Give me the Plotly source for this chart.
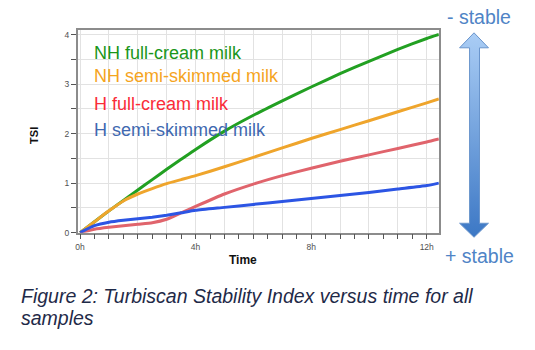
import plotly.graph_objects as go

# Turbiscan Stability Index (TSI) readings over time, in hours
time_h = [0, 0.5, 1, 1.5, 2, 2.5, 3, 3.5, 4, 5, 6, 7, 8, 9, 10, 11, 12, 12.42]
nh_full_cream = [0, 0.22, 0.44, 0.65, 0.86, 1.07, 1.28, 1.48, 1.68, 2.05, 2.37, 2.66, 2.94, 3.21, 3.46, 3.70, 3.92, 4.0]
nh_semi_skimmed = [0, 0.22, 0.44, 0.64, 0.78, 0.89, 0.99, 1.07, 1.15, 1.33, 1.52, 1.71, 1.90, 2.08, 2.26, 2.44, 2.62, 2.70]
h_full_cream = [0, 0.07, 0.11, 0.14, 0.17, 0.20, 0.27, 0.40, 0.53, 0.78, 0.98, 1.15, 1.30, 1.44, 1.57, 1.70, 1.83, 1.89]
h_semi_skimmed = [0, 0.14, 0.21, 0.25, 0.28, 0.31, 0.35, 0.40, 0.45, 0.51, 0.57, 0.63, 0.69, 0.75, 0.81, 0.88, 0.95, 1.0]

series_names = ["NH full-cream milk", "NH semi-skimmed milk", "H full-cream milk", "H semi-skimmed milk"]
line_colors = ["#22a022", "#efa52c", "#e0646c", "#2c55e4"]
label_colors = ["#1a961a", "#f5a41e", "#fa2c38", "#4068b0"]

x_ticks = list(range(0, 13))
x_ticktext = [f"{v}h" if v % 4 == 0 else "" for v in x_ticks]
y_ticks = [i * 0.5 for i in range(9)]
y_ticktext = [str(int(v)) if v == int(v) else "" for v in y_ticks]

W, H = 535, 350
# plot area in pixels
PL, PR, PT, PB = 76, 438.5, 30, 236

fig = go.Figure()

# stability arrow on a pixel-space layer (drawn first, underneath)
ax_c = 473.8
arrow_x = [ax_c, 488.3, 479.3, 479.3, 488.3, ax_c, 459.3, 469.3, 469.3, 459.3, ax_c]
arrow_y = [33.3, 48.5, 48.5, 226.5, 226.5, 240.7, 226.5, 226.5, 48.5, 48.5, 33.3]
fig.add_trace(go.Scatter(
    x=arrow_x, y=arrow_y, mode="lines", fill="toself",
    line=dict(color="#6a95cc", width=1),
    fillgradient=dict(type="vertical", start=33, stop=241,
                      colorscale=[[0, "#aacdf5"], [1, "#3a76c4"]]),
    xaxis="x2", yaxis="y2", showlegend=False, hoverinfo="skip",
))

for name, ys, col in zip(series_names, [nh_full_cream, nh_semi_skimmed, h_full_cream, h_semi_skimmed], line_colors):
    fig.add_trace(go.Scatter(
        x=time_h, y=ys, mode="lines", name=name,
        line=dict(color=col, width=3, shape="spline", smoothing=0.5),
        xaxis="x", yaxis="y", showlegend=False,
    ))

tick_font = dict(family="Liberation Sans, Arial, sans-serif", size=8.5, color="#505050")

fig.update_layout(
    width=W, height=H,
    margin=dict(l=0, r=0, t=0, b=0),
    paper_bgcolor="white", plot_bgcolor="rgba(0,0,0,0)",
    font=dict(family="Liberation Sans, Arial, sans-serif"),
    xaxis=dict(
        domain=[PL / W, PR / W], range=[-0.08, 12.42],
        tickvals=x_ticks, ticktext=x_ticktext, ticks="outside", ticklen=5,
        tickcolor="#555555", tickfont=tick_font,
        minor=dict(dtick=0.5, ticks="outside", ticklen=5, tickcolor="#555555", showgrid=False),
        showgrid=True, gridcolor="#e2e2e2", gridwidth=1,
        showline=True, linecolor="#8c8c8c", linewidth=1.5, mirror=True,
        zeroline=False, anchor="y",
    ),
    yaxis=dict(
        domain=[1 - PB / H, 1 - PT / H], range=[0, 4.1],
        tickvals=y_ticks, ticktext=y_ticktext, ticks="outside", ticklen=5,
        tickcolor="#555555", tickfont=tick_font,
        showgrid=True, gridcolor="#e2e2e2", gridwidth=1,
        showline=True, linecolor="#8c8c8c", linewidth=1.5, mirror=True,
        zeroline=False, anchor="x",
    ),
    xaxis2=dict(domain=[0, 1], range=[0, W], visible=False, anchor="y2"),
    yaxis2=dict(domain=[0, 1], range=[H, 0], visible=False, anchor="x2"),
)

ann = []
# series labels inside the plot
for name, col, yc in zip(series_names, label_colors, [54, 77.5, 105.5, 131.5]):
    ann.append(dict(x=90, y=yc, text=name, xanchor="left", yanchor="middle",
                    font=dict(size=18, color=col)))
# stability markers
ann.append(dict(x=479, y=17.5, text="- stable", xanchor="center", yanchor="middle",
                font=dict(size=19.5, color="#4f84c6")))
ann.append(dict(x=479, y=260, text="+ stable", xanchor="center", yanchor="middle",
                font=dict(size=19.5, color="#4f84c6")))
# axis titles
ann.append(dict(x=32, y=137, text="<b>TSI</b>", textangle=-90, xanchor="center", yanchor="middle",
                font=dict(size=11, color="#111111")))
ann.append(dict(x=242, y=264, text="<b>Time</b>", xanchor="center", yanchor="middle",
                font=dict(size=12, color="#111111")))
# caption
ann.append(dict(x=17, y=300, text="<i>Figure 2: Turbiscan Stability Index versus time for all</i>",
                xanchor="left", yanchor="middle", font=dict(size=19.5, color="#1f2a48")))
ann.append(dict(x=17, y=323, text="<i>samples</i>",
                xanchor="left", yanchor="middle", font=dict(size=19.5, color="#1f2a48")))

for a in ann:
    a.update(xref="x2", yref="y2", showarrow=False)
fig.update_layout(annotations=ann)

fig.write_html("out.html")
